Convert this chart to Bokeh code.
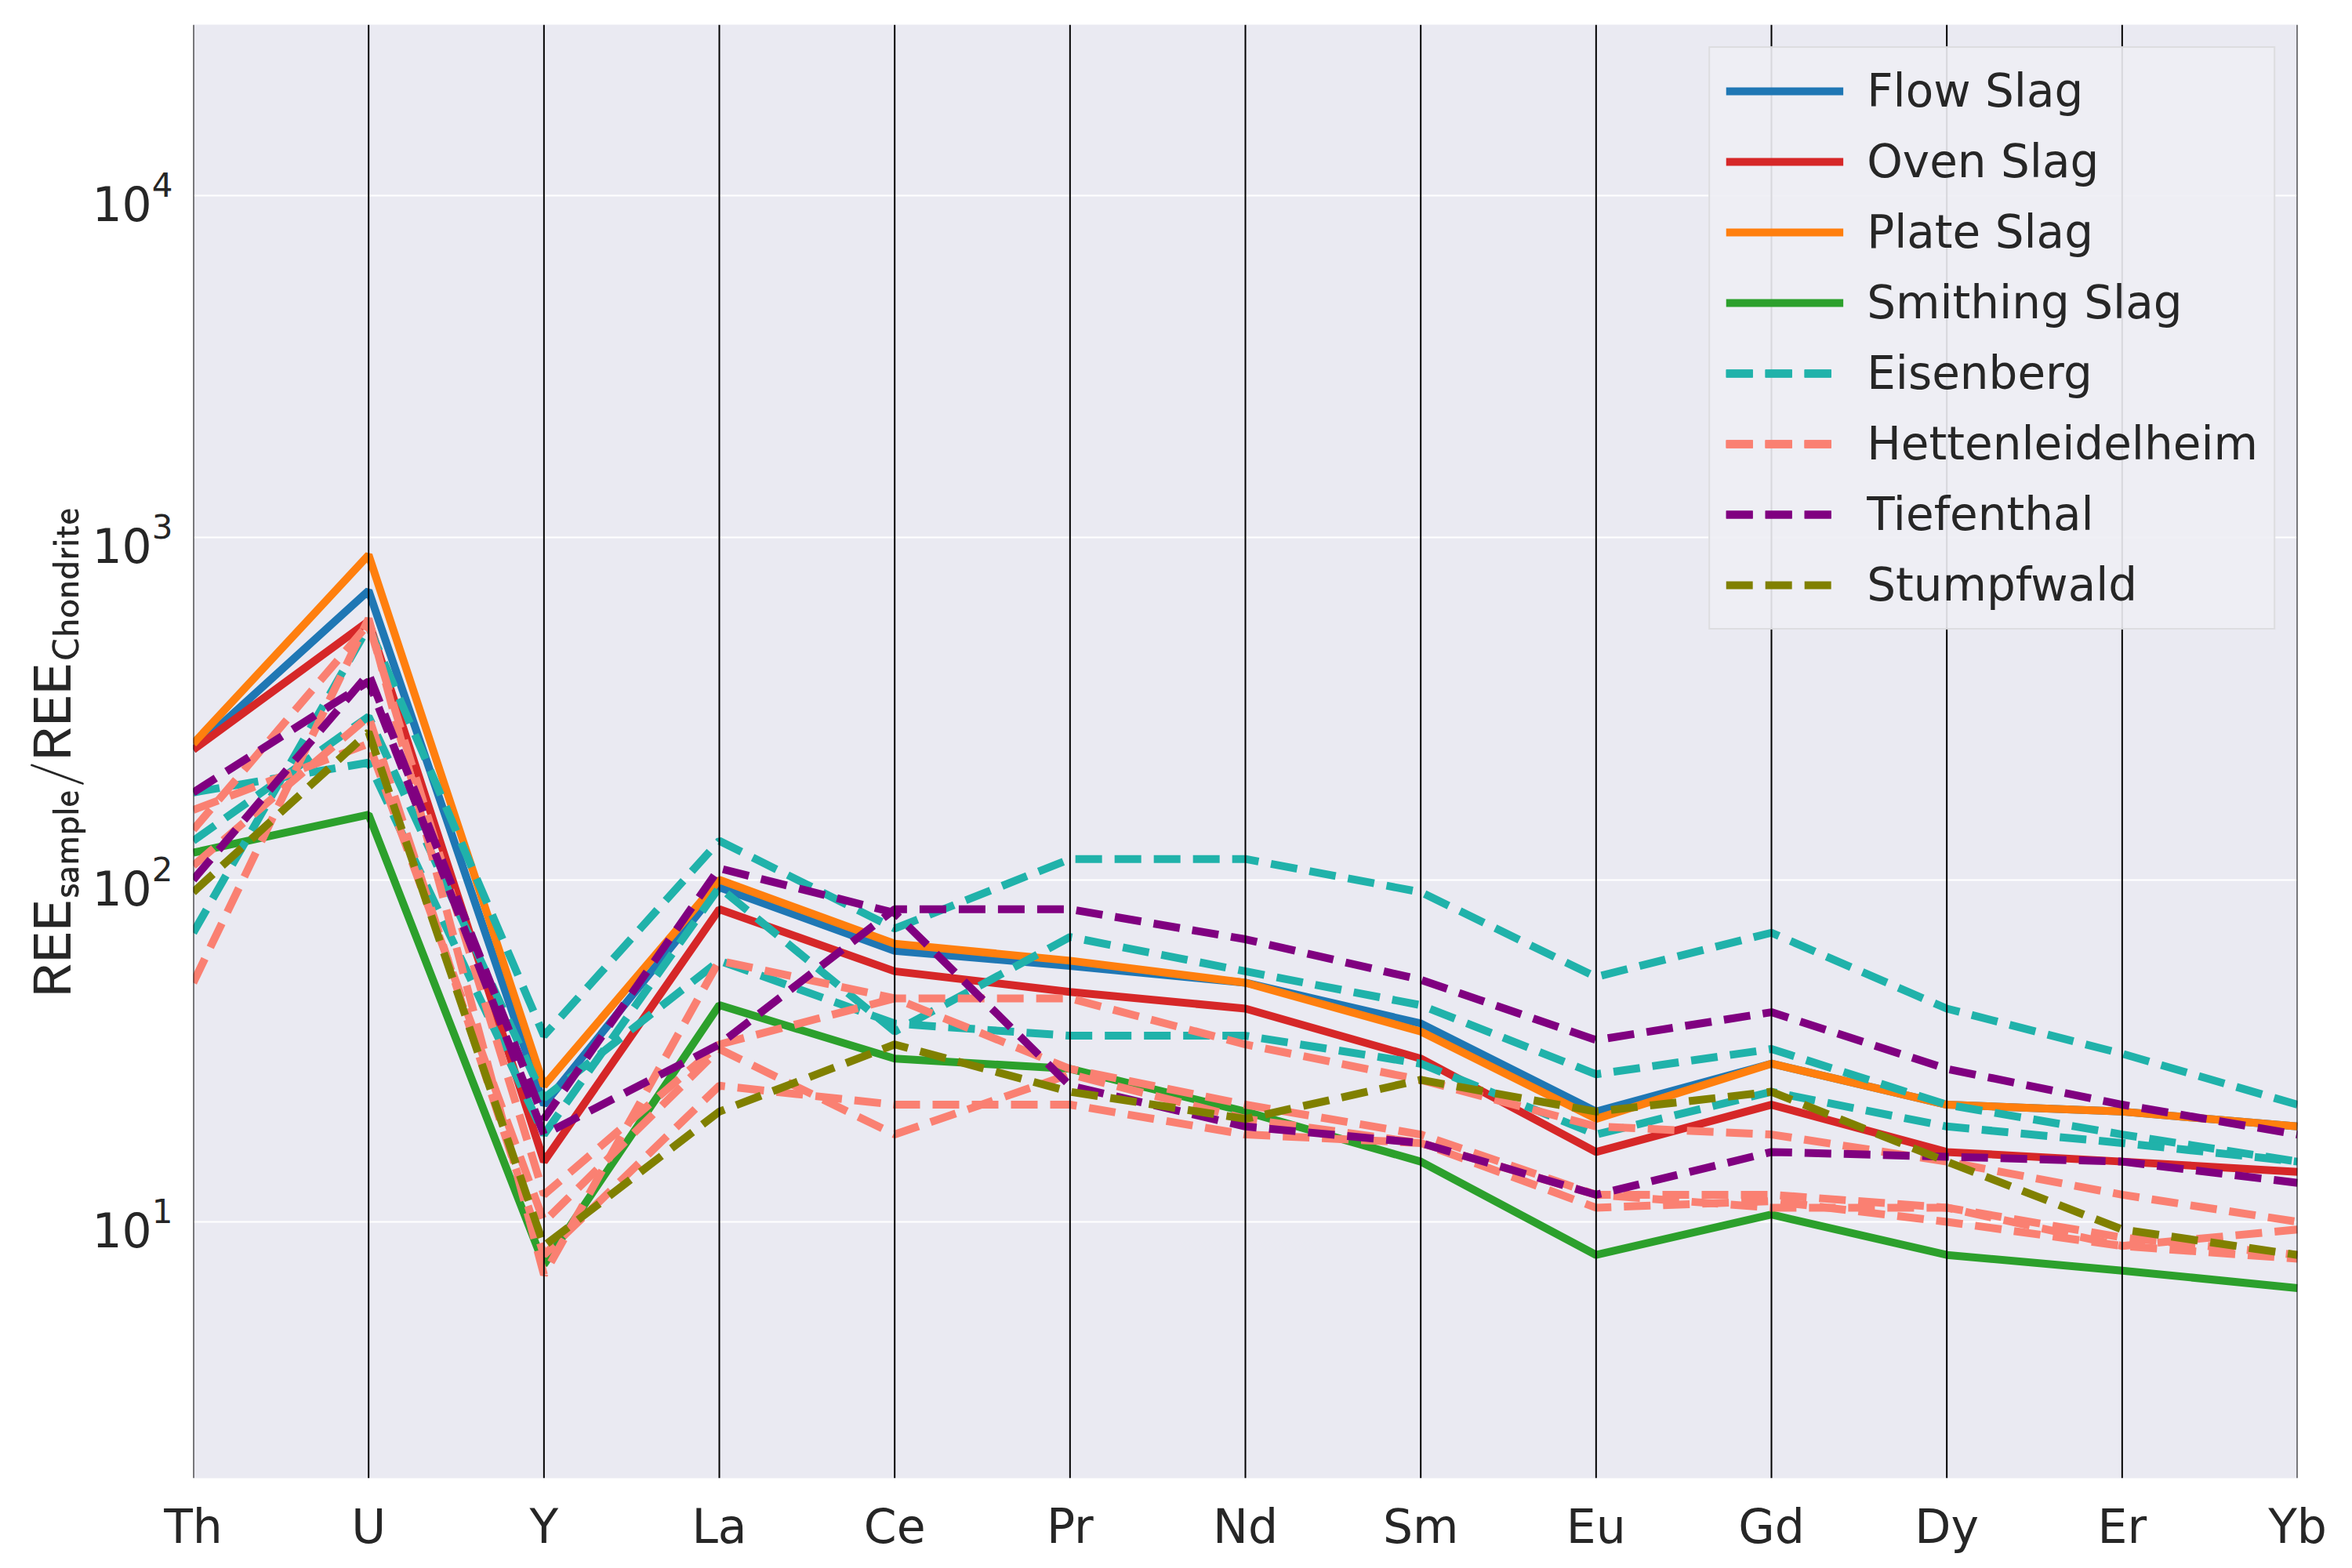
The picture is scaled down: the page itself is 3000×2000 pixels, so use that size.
import numpy as np
from bokeh.models import FixedTicker, Span, Legend
from bokeh.plotting import figure
from bokeh.embed import file_html
from bokeh.resources import INLINE

elements = ["Th", "U", "Y", "La", "Ce", "Pr", "Nd", "Sm", "Eu", "Gd", "Dy", "Er", "Yb"]

flow_slag = [240, 700, 22, 95, 62, 56, 50, 38, 21, 29, 22, 21, 19]
oven_slag = [240, 570, 15, 82, 54, 47, 42, 30, 16, 22, 16, 15, 14]
plate_slag = [250, 890, 25, 100, 65, 58, 50, 36, 20, 29, 22, 21, 19]
smithing_slag = [120, 155, 7.5, 43, 30, 28, 21, 15, 8, 10.5, 8, 7.2, 6.4]

eisenberg_1 = [70, 550, 35, 130, 72, 115, 115, 92, 52, 70, 42, 31, 22]
eisenberg_2 = [180, 220, 18, 95, 36, 68, 54, 43, 27, 32, 22, 18, 15]
eisenberg_3 = [130, 300, 23, 58, 38, 35, 35, 29, 18, 24, 19, 17, 15]

hetten_1 = [50, 580, 7, 58, 45, 45, 33, 26, 19, 18, 15, 12, 10]
hetten_2 = [140, 560, 12, 33, 45, 28, 22, 18, 12, 12, 11, 9, 8]
hetten_3 = [110, 300, 8, 25, 22, 22, 18, 17, 11, 11.5, 10, 8.5, 7.8]
hetten_4 = [160, 250, 10, 32, 18, 27, 20, 17, 12, 11, 11, 8.5, 9.5]

tiefenthal_1 = [180, 380, 18, 33, 82, 82, 67, 51, 34, 41, 28, 22, 18]
tiefenthal_2 = [100, 400, 20, 108, 80, 25, 19, 17, 12, 16, 15.5, 15, 13]

stumpfwald_1 = [92, 270, 8.5, 21, 33, 24, 20, 26, 21, 24, 15, 9.5, 8]

x = list(range(len(elements)))

p = figure(width=2984, height=1984, y_axis_type="log", x_range=(0, 12), y_range=(1.78, 31600),
           output_backend="svg", toolbar_location=None,
           min_border_left=246, min_border_right=54, min_border_top=31, min_border_bottom=90)
p.background_fill_color = "#EAEAF2"
p.outline_line_color = None
p.xgrid.grid_line_color = None
p.ygrid.grid_line_color = "white"
p.ygrid.grid_line_width = 2
p.ygrid.minor_grid_line_color = None

for i in x:
    p.add_layout(Span(location=i, dimension="height", line_color="black", line_width=2))

series = [
    (flow_slag, "Flow Slag", "#1f77b4", "solid"),
    (oven_slag, "Oven Slag", "#d62728", "solid"),
    (plate_slag, "Plate Slag", "#ff7f0e", "solid"),
    (smithing_slag, "Smithing Slag", "#2ca02c", "solid"),
    (eisenberg_1, "Eisenberg", "lightseagreen", "dashed"),
    (eisenberg_2, "Eisenberg", "lightseagreen", "dashed"),
    (eisenberg_3, "Eisenberg", "lightseagreen", "dashed"),
    (hetten_1, "Hettenleidelheim", "salmon", "dashed"),
    (hetten_2, "Hettenleidelheim", "salmon", "dashed"),
    (hetten_3, "Hettenleidelheim", "salmon", "dashed"),
    (hetten_4, "Hettenleidelheim", "salmon", "dashed"),
    (tiefenthal_1, "Tiefenthal", "purple", "dashed"),
    (tiefenthal_2, "Tiefenthal", "purple", "dashed"),
    (stumpfwald_1, "Stumpfwald", "olive", "dashed"),
]

items = {}
for ys, name, color, dash in series:
    r = p.line(x, ys, line_color=color, line_width=10,
               line_dash="34 16" if dash == "dashed" else "solid")
    items.setdefault(name, []).append(r)

legend = Legend(items=[(k, v) for k, v in items.items()], location="top_right")
legend.label_text_font_size = "58px"
legend.label_text_font = "DejaVu Sans"
legend.label_text_color = "#262626"
legend.glyph_width = 150
legend.glyph_height = 70
legend.spacing = 20
legend.padding = 20
legend.margin = 28
legend.label_standoff = 30
legend.background_fill_color = "#EEEEF4"
legend.background_fill_alpha = 0.9
legend.border_line_color = "#CCCCCC"
legend.border_line_width = 2
p.add_layout(legend)

p.xaxis.ticker = FixedTicker(ticks=x)
p.xaxis.major_label_overrides = {i: e for i, e in enumerate(elements)}
p.yaxis.ticker = FixedTicker(ticks=[10, 100, 1000, 10000])
for ax in [p.xaxis, p.yaxis]:
    ax.axis_line_color = None
    ax.major_tick_line_color = None
    ax.minor_tick_line_color = None
    ax.major_label_text_font_size = "60px"
    ax.major_label_text_font = "DejaVu Sans"
    ax.major_label_text_color = "#262626"
    ax.major_label_standoff = 20
p.yaxis.axis_label = r"$$\mathsf{REE}_{\mathsf{sample}}/\mathsf{REE}_{\mathsf{Chondrite}}$$"
p.yaxis.axis_label_text_font_size = "58px"
p.yaxis.axis_label_text_color = "#262626"

open("out.html", "w").write(file_html(p, INLINE))
